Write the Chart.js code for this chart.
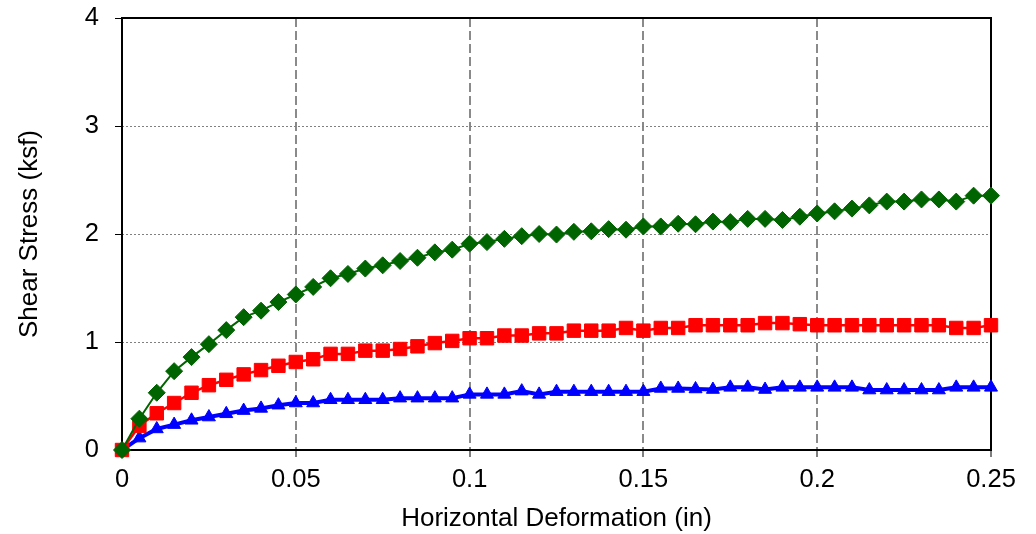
<!DOCTYPE html>
<html>
<head>
<meta charset="utf-8">
<script src="https://cdn.jsdelivr.net/npm/chart.js@4.4.0/dist/chart.umd.min.js"></script>
<style>
  body { margin: 0; background: #fff; }
  #wrap { width: 1036px; height: 534px; }
</style>
</head>
<body>
<div id="wrap"><canvas id="shear-chart" width="1036" height="534"></canvas></div>
<script>
// --- DATA ---
const deformation = [
    0, 0.005, 0.01, 0.015, 0.02, 0.025, 0.03, 0.035, 0.04, 0.045,
    0.05, 0.055, 0.06, 0.065, 0.07, 0.075, 0.08, 0.085, 0.09, 0.095,
    0.1, 0.105, 0.11, 0.115, 0.12, 0.125, 0.13, 0.135, 0.14, 0.145,
    0.15, 0.155, 0.16, 0.165, 0.17, 0.175, 0.18, 0.185, 0.19, 0.195,
    0.2, 0.205, 0.21, 0.215, 0.22, 0.225, 0.23, 0.235, 0.24, 0.245,
    0.25
];

// green diamonds
const stressHigh = [
    0, 0.29, 0.53, 0.73, 0.86, 0.98, 1.11, 1.23, 1.29, 1.37,
    1.44, 1.51, 1.59, 1.63, 1.68, 1.71, 1.75, 1.78, 1.83, 1.855,
    1.91, 1.925, 1.955, 1.98, 2.0, 1.995, 2.02, 2.025, 2.045, 2.04,
    2.07, 2.07, 2.095, 2.09, 2.115, 2.11, 2.14, 2.14, 2.13, 2.16,
    2.19, 2.21, 2.235, 2.265, 2.30, 2.30, 2.32, 2.32, 2.30, 2.355,
    2.355
];

// red squares
const stressMid = [
    0, 0.225, 0.34, 0.435, 0.53, 0.60, 0.65, 0.70, 0.74, 0.78,
    0.815, 0.84, 0.89, 0.89, 0.92, 0.92, 0.935, 0.96, 0.99, 1.01,
    1.035, 1.035, 1.06, 1.06, 1.08, 1.08, 1.105, 1.105, 1.105, 1.13,
    1.105, 1.13, 1.13, 1.155, 1.155, 1.155, 1.155, 1.175, 1.175, 1.165,
    1.155, 1.155, 1.155, 1.155, 1.155, 1.155, 1.155, 1.155, 1.13, 1.13,
    1.155
];

// blue triangles
const stressLow = [
    0, 0.11, 0.195, 0.235, 0.275, 0.305, 0.335, 0.365, 0.385, 0.415,
    0.435, 0.435, 0.465, 0.465, 0.465, 0.465, 0.48, 0.48, 0.48, 0.48,
    0.515, 0.515, 0.515, 0.545, 0.515, 0.54, 0.54, 0.54, 0.54, 0.54,
    0.54, 0.57, 0.57, 0.565, 0.56, 0.58, 0.58, 0.56, 0.58, 0.58,
    0.58, 0.58, 0.58, 0.555, 0.555, 0.555, 0.555, 0.555, 0.58, 0.58,
    0.58
];

const xTicks = [0, 0.05, 0.1, 0.15, 0.2, 0.25];
const xTickLabels = ['0', '0.05', '0.1', '0.15', '0.2', '0.25'];
const yTicks = [0, 1, 2, 3, 4];
const yTickLabels = ['0', '1', '2', '3', '4'];

const FONT = "'Liberation Sans', Arial, sans-serif";

const toPoints = (ys) => deformation.map((x, i) => ({ x: x, y: ys[i] }));

// draws the black frame round the plot area
const frameBox = {
    id: 'frameBox',
    beforeDatasetsDraw(chart) {
        const { ctx, chartArea: a } = chart;
        ctx.save();
        ctx.strokeStyle = '#000';
        ctx.lineWidth = 2;
        ctx.setLineDash([]);
        ctx.strokeRect(a.left, a.top, a.right - a.left, a.bottom - a.top);
        ctx.restore();
    }
};

new Chart(document.getElementById('shear-chart'), {
    type: 'line',
    data: {
        datasets: [
            {
                label: 'High', data: toPoints(stressHigh),
                borderColor: '#006400', backgroundColor: '#006400', borderWidth: 2,
                pointStyle: 'rectRot', pointRadius: 8.5, pointBorderWidth: 1,
                pointBackgroundColor: '#006400', pointBorderColor: '#006400', clip: false
            },
            {
                label: 'Mid', data: toPoints(stressMid),
                borderColor: '#ff0000', backgroundColor: '#ff0000', borderWidth: 2.5,
                pointStyle: 'rect', pointRadius: 9.5, pointBorderWidth: 1,
                pointBackgroundColor: '#ff0000', pointBorderColor: '#ff0000', clip: false
            },
            {
                label: 'Low', data: toPoints(stressLow),
                borderColor: '#0000ff', backgroundColor: '#0000ff', borderWidth: 4,
                pointStyle: 'triangle', pointRadius: 7.5, pointBorderWidth: 1,
                pointBackgroundColor: '#0000ff', pointBorderColor: '#0000ff', clip: false
            }
        ]
    },
    options: {
        responsive: false,
        animation: false,
        layout: { padding: { left: 0, right: 45, top: 18, bottom: 0 } },
        plugins: {
            legend: { display: false },
            tooltip: { enabled: false }
        },
        elements: { line: { tension: 0 } },
        scales: {
            x: {
                type: 'linear', min: 0, max: 0.25,
                afterBuildTicks: (scale) => { scale.ticks = xTicks.map(v => ({ value: v })); },
                afterFit: (scale) => { scale.height = 84; },
                ticks: {
                    color: '#000', padding: 8, maxRotation: 0, autoSkip: false,
                    font: { family: FONT, size: 25.5 },
                    callback: (v, i) => xTickLabels[i]
                },
                grid: {
                    color: '#8a8a8a', lineWidth: 2,
                    tickLength: 7, tickColor: '#555', tickWidth: 1.5, tickBorderDash: []
                },
                border: { display: false, dash: [9, 4] },
                title: {
                    display: true, text: 'Horizontal Deformation (in)', color: '#000',
                    font: { family: FONT, size: 26 }, padding: { top: 0, bottom: 0 }
                }
            },
            y: {
                type: 'linear', min: 0, max: 4,
                afterBuildTicks: (scale) => { scale.ticks = yTicks.map(v => ({ value: v })); },
                afterFit: (scale) => {
                    scale.width = 122;
                    scale.paddingTop = 0;
                    scale.paddingBottom = 0;
                },
                ticks: {
                    color: '#000', padding: 16,
                    font: { family: FONT, size: 25.5 },
                    callback: (v, i) => yTickLabels[i]
                },
                grid: {
                    color: '#808080', lineWidth: 1,
                    tickLength: 7, tickColor: '#000', tickWidth: 1, tickBorderDash: []
                },
                border: { display: false, dash: [2, 2] },
                title: {
                    display: true, text: 'Shear Stress (ksf)', color: '#000',
                    font: { family: FONT, size: 26 }, padding: { top: 14, bottom: 0 }
                }
            }
        }
    },
    plugins: [frameBox]
});
</script>
</body>
</html>
